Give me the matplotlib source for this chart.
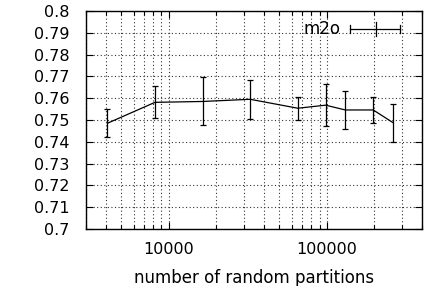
import numpy as np
import matplotlib.pyplot as plt
from matplotlib.ticker import LogLocator, NullFormatter, FixedLocator

partitions = [4096, 8192, 16384, 32768, 65536, 98304, 131072, 196608, 262144]
m2o = [0.7485, 0.7581, 0.7585, 0.7595, 0.7554, 0.7568, 0.7546, 0.7546, 0.7488]
m2o_err = [0.0065, 0.0073, 0.0110, 0.0090, 0.0053, 0.0095, 0.0085, 0.0060, 0.0087]

fig = plt.figure(figsize=(4.28, 2.86), dpi=100)
ax = fig.add_axes([86 / 428, 57 / 286, 336 / 428, 218 / 286])

ax.errorbar(partitions, m2o, yerr=m2o_err, color='black', lw=0.9,
            elinewidth=0.9, capsize=2.5, capthick=0.9)

ax.set_xscale('log')
ax.set_xlim(3000, 400000)
ax.set_ylim(0.7, 0.8)
ax.yaxis.set_major_locator(FixedLocator(np.round(np.arange(0.7, 0.8001, 0.01), 2)))
ax.set_yticklabels(['0.7', '0.71', '0.72', '0.73', '0.74', '0.75',
                    '0.76', '0.77', '0.78', '0.79', '0.8'])
ax.xaxis.set_major_locator(LogLocator(base=10))
ax.xaxis.set_minor_locator(LogLocator(base=10, subs=np.arange(2, 10)))
ax.xaxis.set_minor_formatter(NullFormatter())
ax.xaxis.set_major_formatter(plt.FuncFormatter(lambda v, p: '%d' % v))

dots = (0, (1, 2.2))
ax.grid(True, which='both', axis='x', color='#333333', linestyle=dots, lw=0.8)
ax.grid(True, which='major', axis='y', color='#333333', linestyle=dots, lw=0.8)

ax.tick_params(which='both', direction='in', top=True, right=True, labelsize=11.5,
               width=0.8, color='black')
ax.tick_params(which='major', length=5, pad=12)
ax.tick_params(which='minor', length=3)
ax.tick_params(axis='x', pad=9)
for s in ax.spines.values():
    s.set_linewidth(1)

ax.set_xlabel('number of random partitions', fontsize=12, labelpad=9)

# gnuplot-style key
ax.text(0.756, 0.917, 'm2o', transform=ax.transAxes, ha='right', va='center', fontsize=12)
ax.plot([0.786, 0.935], [0.917, 0.917], transform=ax.transAxes, color='black', lw=0.9)
for xk in (0.786, 0.935):
    ax.plot([xk, xk], [0.9, 0.934], transform=ax.transAxes, color='black', lw=0.9)
ax.plot([0.863, 0.863], [0.885, 0.949], transform=ax.transAxes, color='black', lw=0.9)

fig.savefig('out.png', dpi=100)
